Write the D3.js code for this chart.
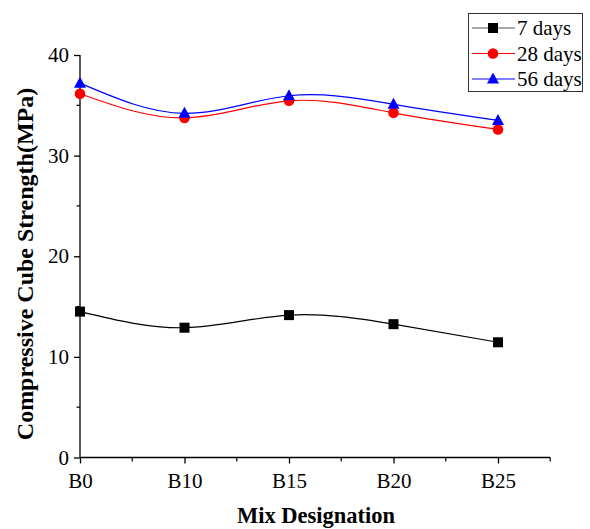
<!DOCTYPE html>
<html><head><meta charset="utf-8">
<script src="https://cdn.jsdelivr.net/npm/d3@7"></script>
<style>body{margin:0;background:#fff}svg{display:block}svg text{font-family:"Times New Roman","Liberation Serif",Times,serif !important}</style>
</head><body><svg id="c" width="590" height="529"></svg>
<script>
const categories = ["B0","B10","B15","B20","B25"];
const days7 = [14.5, 12.9, 14.15, 13.25, 11.45];
const days28 = [36.15, 33.75, 35.45, 34.25, 32.6];
const days56 = [37.2, 34.2, 35.95, 35.1, 33.5];
const seriesNames = ["7 days","28 days","56 days"];
const seriesColors = ["#000000","#ff0000","#0000ff"];
const seriesShapes = ["square","circle","triangle"];
const yTicks = [0,10,20,30,40];

const FONT = "'Times New Roman','Liberation Serif',Times,serif";
const svg = d3.select("#c");
const x0 = 80, step = 104.5;
const x = d3.scaleLinear().domain([0, 4.5]).range([x0, x0 + step*4.5]);
const y = d3.scaleLinear().domain([0, 40]).range([457.5, 55]);

const g = svg.append("g");
// y axis
const yAxis = d3.axisLeft(y).tickValues(yTicks).tickSize(6).tickPadding(5);
const ya = g.append("g").attr("transform", `translate(${x0},0)`).call(yAxis);
ya.select(".domain").attr("d", `M0,${y(40)}V${y(0)}`);
g.append("g").attr("transform", `translate(${x0},0)`)
  .selectAll("line").data([5,15,25,35]).join("line")
  .attr("x1",-3.5).attr("x2",0).attr("y1",d=>y(d)).attr("y2",d=>y(d)).attr("stroke","#000").attr("stroke-width",1.2);
// x axis
const xAxis = d3.axisBottom(x).tickValues([0,1,2,3,4]).tickFormat(i=>categories[i]).tickSize(6).tickPadding(10);
const xa = g.append("g").attr("transform", `translate(0,${y(0)})`).call(xAxis);
xa.select(".domain").attr("d", `M${x(0)},0H${x(4.5)}`);
g.append("g").attr("transform", `translate(0,${y(0)})`)
  .selectAll("line").data([0.5,1.5,2.5,3.5,4.5]).join("line")
  .attr("x1",d=>x(d)).attr("x2",d=>x(d)).attr("y1",0).attr("y2",4).attr("stroke","#000").attr("stroke-width",1.2);
g.selectAll("g").attr("font-family",FONT);
g.selectAll(".tick text").attr("font-family",FONT).attr("font-size",21).attr("fill","#000");
g.selectAll(".domain, .tick line").attr("stroke","#000").attr("stroke-width",1.3);

// titles
svg.append("text").attr("x",316).attr("y",523).attr("text-anchor","middle").attr("font-family",FONT)
  .attr("font-weight","bold").attr("font-size",22.5).text("Mix Designation");
svg.append("text").attr("transform","translate(33,264) rotate(-90)").attr("text-anchor","middle").attr("font-family",FONT)
  .attr("font-weight","bold").attr("font-size",24).text("Compressive Cube Strength(MPa)");

const data = [days7, days28, days56];
const line = d3.line().x((d,i)=>x(i)).y(d=>y(d)).curve(d3.curveNatural);
function marker(sel, shape, color){
  if(shape==="square") sel.append("rect").attr("x",-5).attr("y",-5).attr("width",10).attr("height",10).attr("fill",color);
  else if(shape==="circle") sel.append("circle").attr("r",5.3).attr("fill",color);
  else sel.append("path").attr("d","M0,-6.5L6,4.5L-6,4.5Z").attr("fill",color);
}
data.forEach((vals,k)=>{
  g.append("path").attr("d", line(vals)).attr("fill","none").attr("stroke",seriesColors[k]).attr("stroke-width",1.2);
  vals.forEach((v,i)=>{
    const m = g.append("g").attr("transform",`translate(${x(i)},${y(v)})`);
    marker(m, seriesShapes[k], seriesColors[k]);
  });
});

// legend
const lg = svg.append("g");
lg.append("rect").attr("x",468.5).attr("y",13.5).attr("width",114).attr("height",78)
  .attr("fill","#fff").attr("stroke","#333").attr("stroke-width",1);
seriesNames.forEach((n,k)=>{
  const yy = 28 + k*25.5;
  lg.append("line").attr("x1",472).attr("x2",515).attr("y1",yy).attr("y2",yy).attr("stroke",k===0?"#555":seriesColors[k]).attr("stroke-width",1.2);
  const m = lg.append("g").attr("transform",`translate(493,${yy})`);
  marker(m, seriesShapes[k], seriesColors[k]);
  lg.append("text").attr("x",517).attr("y",yy+7).attr("font-family",FONT).attr("font-size",21).text(n);
});
</script></body></html>
